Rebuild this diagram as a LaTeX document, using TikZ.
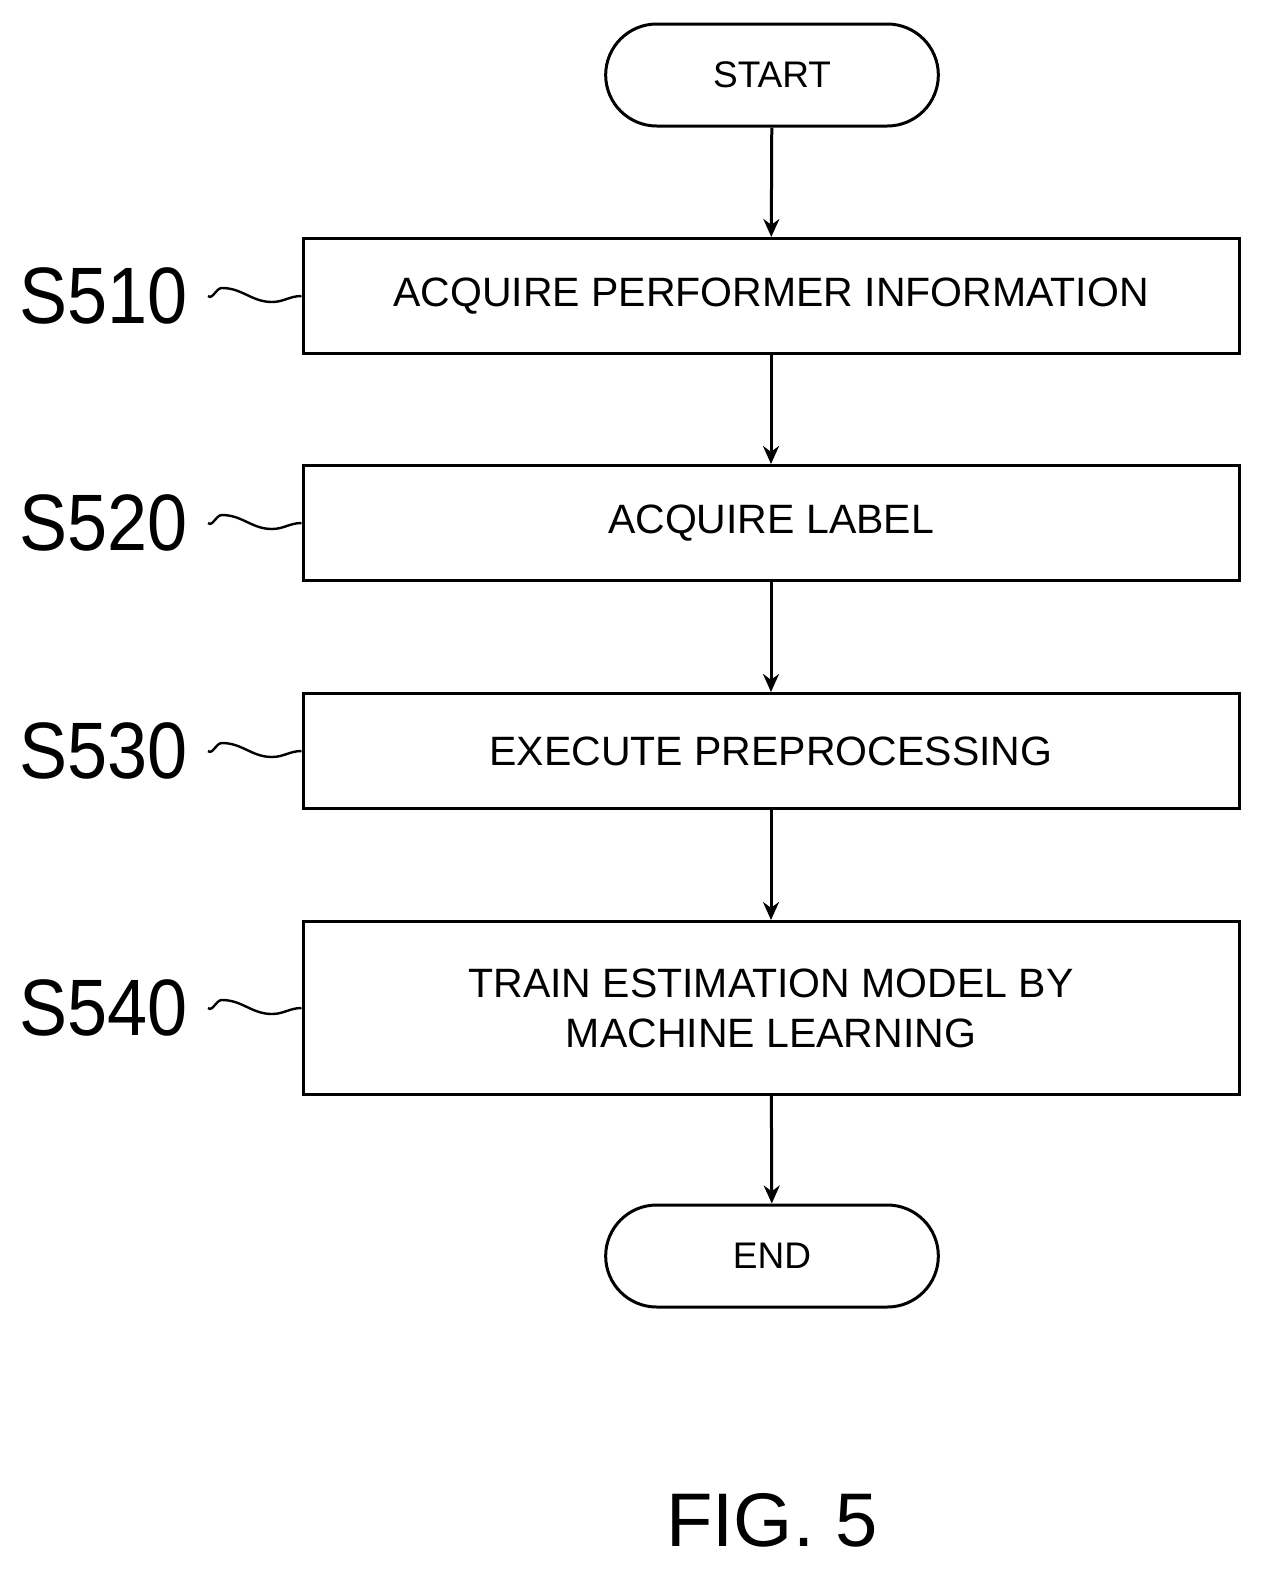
\documentclass[tikz,border=0pt]{standalone}
\usepackage{fontspec}
\usepackage{graphicx}
\setmainfont{Liberation Sans}
\usetikzlibrary{arrows.meta,shapes.misc}
\begin{document}
\begin{tikzpicture}[x=0.5pt,y=-0.5pt,
  box/.style={draw,line width=1.5pt,minimum width=468pt,minimum height=57.5pt,font=\fontsize{20.5}{25}\selectfont,align=center,inner sep=0},
  term/.style={draw,line width=1.5pt,rounded rectangle,minimum width=173pt,minimum height=51pt,font=\fontsize{18.5}{22}\selectfont},
  lbl/.style={font=\fontsize{40}{44}\selectfont,anchor=east,inner sep=0},
  arr/.style={-{Stealth[length=9pt,width=8pt]},line width=1.5pt},
  sq/.style={line width=1.2pt}]
\useasboundingbox (0,0) rectangle (1272,1579);
\node[term] (st) at (772,75) {START};
\node[box] (b1) at (771,296) {ACQUIRE PERFORMER INFORMATION};
\node[box] (b2) at (771,523) {ACQUIRE LABEL};
\node[box] (b3) at (771,751) {EXECUTE PREPROCESSING};
\node[box,minimum height=86.5pt] (b4) at (771,1008) {TRAIN ESTIMATION MODEL BY\\MACHINE LEARNING};
\node[term] (en) at (772,1256) {END};
\draw[arr] (st) -- (b1);
\draw[arr] (b1) -- (b2);
\draw[arr] (b2) -- (b3);
\draw[arr] (b3) -- (b4);
\draw[arr] (b4) -- (en);
\foreach \n/\t/\y in {1/S510/296,2/S520/523,3/S530/751,4/S540/1008}{
  \node[lbl] (l\n) at (188,\y) {\scalebox{0.9}[1]{\t}};
  \draw[sq] ([xshift=10pt]l\n.east) to[out=-40,in=180] ++(14,-8) to[out=0,in=180] ++(50,14) to[out=0,in=180] (b\n.west);
}
\node[font=\fontsize{38}{42}\selectfont] (fig) at (772,1520) {FIG. 5};
\end{tikzpicture}
\end{document}
